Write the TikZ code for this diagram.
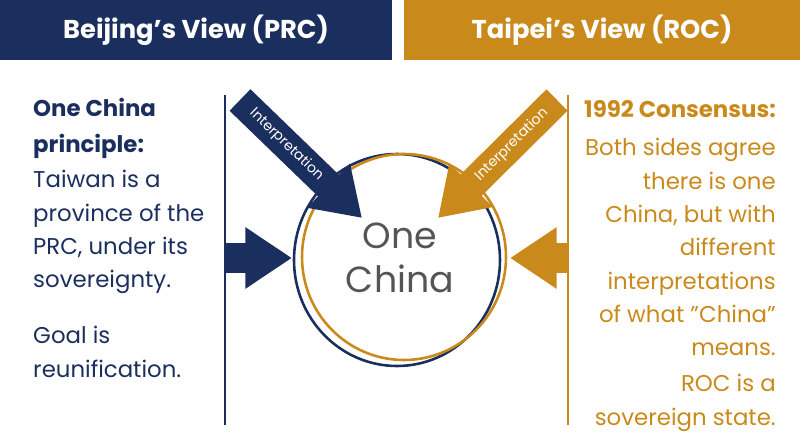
\documentclass[tikz,border=0pt]{standalone}
\usepackage{fontspec}
\setmainfont{Poppins}
\usetikzlibrary{arrows.meta}
\definecolor{navy}{HTML}{1B2F5E}
\definecolor{gold}{HTML}{C98A1B}
\definecolor{ink}{HTML}{555555}
\tikzset{
  head/.style={font=\fontsize{22}{26}\selectfont\bfseries, text=white},
  body/.style={font=\fontsize{19.5}{28.5}\selectfont, inner sep=0pt},
  fat/.style={line width=0.9cm, -{Triangle[length=1.4cm, width=1.75cm]}},
  tag/.style={font=\fontsize{12}{14}\selectfont, text=white, sloped}
}
\begin{document}
\begin{tikzpicture}[x=0.03cm, y=-0.03cm]
\useasboundingbox (0,0) rectangle (800,447);
% headers
\fill[navy] (0,0) rectangle (392,60);
\fill[gold] (404,0) rectangle (800,60);
\node[head] (hl) at (196,30) {Beijing’s View (PRC)};
\node[head] (hr) at (602,30) {Taipei’s View (ROC)};
% dividers
\draw[navy, line width=1pt] (225,95) -- (225,425);
\draw[gold, line width=1pt] (568,95) -- (568,425);
% circles
\draw[navy, line width=2.2pt] (397,260) ellipse (103 and 106);
\draw[gold, line width=2.2pt] (404,257) ellipse (102 and 103);
\node[font=\fontsize{31}{37}\selectfont, text=ink, align=center] (one) at (400,258) {One\\China};
% arrows
\coordinate (la) at (225,258); \coordinate (lb) at (292,258);
\coordinate (ra) at (568,258); \coordinate (rb) at (510,258);
\draw[navy, fat] (la) -- (lb);
\draw[gold, fat] (ra) -- (rb);
\coordinate (da) at (240,100); \coordinate (db) at (362,218);
\coordinate (ea) at (557,100); \coordinate (eb) at (438,218);
\draw[navy, fat] (da) -- (db) node[tag, pos=0.38] {Interpretation};
\draw[gold, fat] (ea) -- (eb) node[tag, pos=0.38] {Interpretation};
% left text
\node[body, anchor=north west, align=left, text=navy, font=\fontsize{19.5}{31}\selectfont\bfseries] (lt) at (33,98) {One China\\principle:};
\node[body, anchor=north west, align=left, text=navy] (lb1) at (33,170) {Taiwan is a\\province of the\\PRC, under its\\sovereignty.};
\node[body, anchor=north west, align=left, text=navy] (lb2) at (33,326) {Goal is\\reunification.};
% right text
\node[body, anchor=north east, align=right, text=gold, font=\fontsize{19.5}{31}\selectfont\bfseries] (rt) at (776,100) {1992 Consensus:};
\node[body, anchor=north east, align=right, text=gold] (rb1) at (776,138) {Both sides agree\\there is one\\China, but with\\different\\interpretations\\of what \char34{}China\char34{}\\means.};
\node[body, anchor=north east, align=right, text=gold] (rb2) at (776,374) {ROC is a\\sovereign state.};
\end{tikzpicture}
\end{document}
